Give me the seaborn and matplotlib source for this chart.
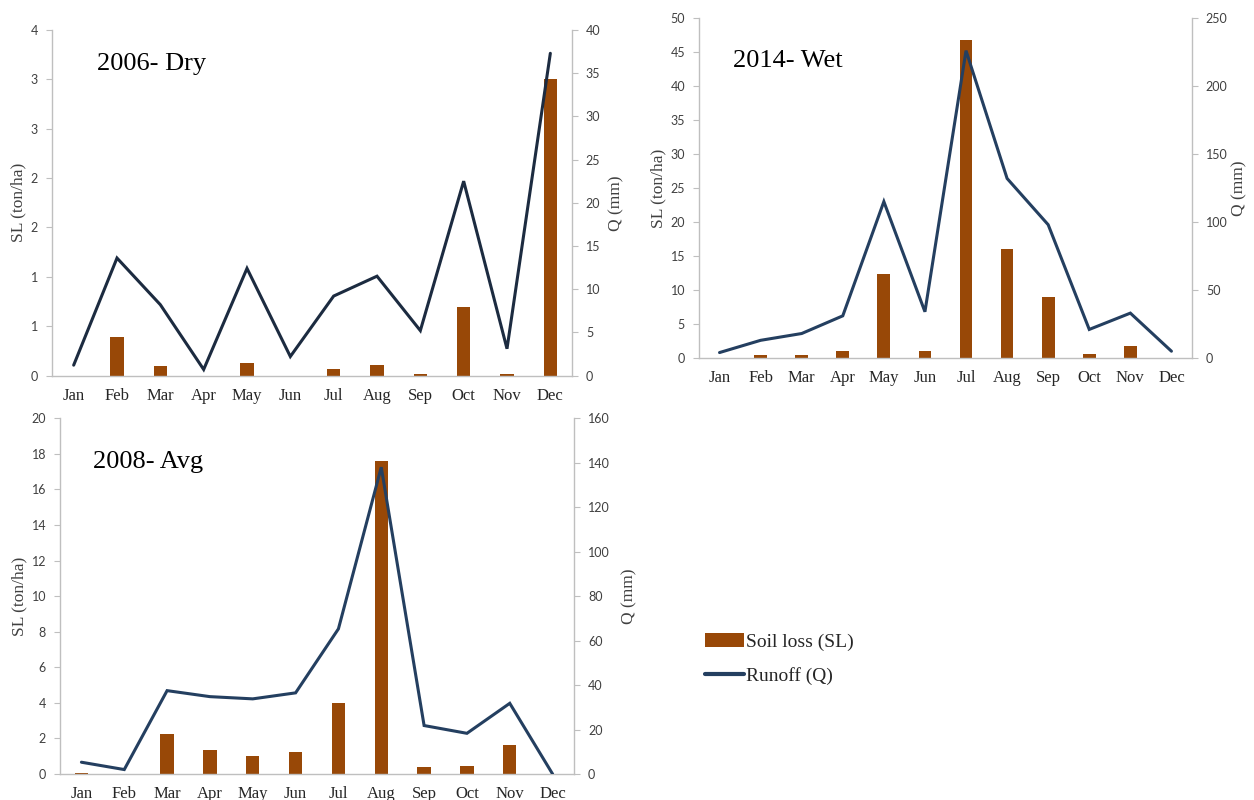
import numpy as np
import seaborn as sns
import matplotlib.pyplot as plt
from matplotlib.ticker import FuncFormatter, MultipleLocator, FixedLocator
from matplotlib.patches import Patch
from matplotlib.lines import Line2D

# months on the x axis
months = ['Jan', 'Feb', 'Mar', 'Apr', 'May', 'Jun',
          'Jul', 'Aug', 'Sep', 'Oct', 'Nov', 'Dec']

# 2006 - dry year
sl_2006 = [0, 0.39, 0.10, 0, 0.13, 0, 0.07, 0.11, 0.02, 0.69, 0.015, 3.0]
q_2006 = [1.2, 13.6, 8.2, 0.7, 12.4, 2.2, 9.2, 11.5, 5.2, 22.5, 3.1, 37.3]

# 2014 - wet year
sl_2014 = [0, 0.4, 0.5, 1.1, 12.3, 1.1, 46.8, 16.1, 8.9, 0.6, 1.8, 0]
q_2014 = [4, 13, 18, 31, 115, 34, 226, 132, 98, 21, 33, 5]

# 2008 - average year
sl_2008 = [0.06, 0, 2.25, 1.37, 1.03, 1.22, 3.98, 17.58, 0.41, 0.45, 1.65, 0]
q_2008 = [5.3, 2.0, 37.5, 34.8, 33.8, 36.5, 65.3, 138, 21.8, 18.3, 31.8, 0]

bar_color = '#984807'
line_color = '#243F60'
grey = '#BFBFBF'
tick_col = '#404040'

sns.set_style('white')
plt.rcParams['font.family'] = ['Liberation Serif', 'DejaVu Serif']

fig = plt.figure(figsize=(12.54, 8), dpi=100)


def panel(rect, sl, q, title, title_xy, sl_max, sl_step, q_max, q_step,
          round_labels=False, lcolor=line_color, qpad=4):
    ax = fig.add_axes(rect)
    sns.barplot(x=months, y=sl, ax=ax, color=bar_color, width=0.31,
                saturation=1, edgecolor='none')
    ax2 = ax.twinx()
    sns.lineplot(x=np.arange(len(months)), y=q, ax=ax2, color=lcolor,
                 linewidth=2.2, solid_joinstyle='miter')

    ax.set_xlim(-0.5, len(months) - 0.5)
    ax.set_ylim(0, sl_max)
    ax2.set_ylim(0, q_max)
    ax.yaxis.set_major_locator(MultipleLocator(sl_step))
    ax2.yaxis.set_major_locator(MultipleLocator(q_step))
    if round_labels:
        # excel style rounding of the half steps
        ax.yaxis.set_major_formatter(FuncFormatter(lambda v, p: '%d' % int(np.floor(v + 0.5))))

    for a in (ax, ax2):
        a.spines['top'].set_visible(False)
        for s in ['left', 'right', 'bottom']:
            a.spines[s].set_color(grey)
            a.spines[s].set_linewidth(1)
    ax2.spines['left'].set_visible(False)
    ax2.spines['bottom'].set_visible(False)
    ax.spines['right'].set_visible(False)

    ax.set_xlabel('')
    ax.set_ylabel('SL (ton/ha)', fontsize=12.5, color=tick_col, labelpad=3)
    ax2.set_ylabel('Q (mm)', fontsize=12.5, color=tick_col, labelpad=qpad)

    for a in (ax, ax2):
        a.tick_params(axis='y', direction='out', length=4, color=grey, labelsize=9,
                      labelcolor=tick_col, pad=6)
    for lab in ax.get_yticklabels() + ax2.get_yticklabels():
        lab.set_family('Lato')

    # ticks between categories
    ax.tick_params(axis='x', which='major', length=0, labelsize=12, labelcolor='#262626', pad=9)
    ax.xaxis.set_minor_locator(FixedLocator(np.arange(-0.5, len(months), 1)))
    ax.tick_params(axis='x', which='minor', length=5, color=grey, direction='out')

    ax.text(title_xy[0], title_xy[1], title, transform=ax.transAxes, fontsize=19,
            va='baseline', ha='left', color='black')
    return ax, ax2


panel([0.04147, 0.5306, 0.41467, 0.4319], sl_2006, q_2006, '2006- Dry', (0.0865, 0.884),
      3.5, 0.5, 40, 5, round_labels=True, lcolor='#1C2B40', qpad=6)
panel([0.5574, 0.5525, 0.39314, 0.425], sl_2014, q_2014, '2014- Wet', (0.069, 0.856),
      50, 5, 250, 50, qpad=3)
panel([0.04785, 0.0325, 0.4099, 0.4446], sl_2008, q_2008, '2008- Avg', (0.064, 0.86),
      20, 2, 160, 20, qpad=8)

handles = [Patch(facecolor=bar_color, edgecolor='none'),
           Line2D([0], [0], color=line_color, linewidth=3)]
fig.legend(handles, ['Soil loss (SL)', 'Runoff (Q)'], loc='center left',
           bbox_to_anchor=(0.548, 0.176), frameon=False, fontsize=14,
           handlelength=2.0, handletextpad=0.15, labelspacing=0.85)

fig.savefig('out.png', dpi=100)
